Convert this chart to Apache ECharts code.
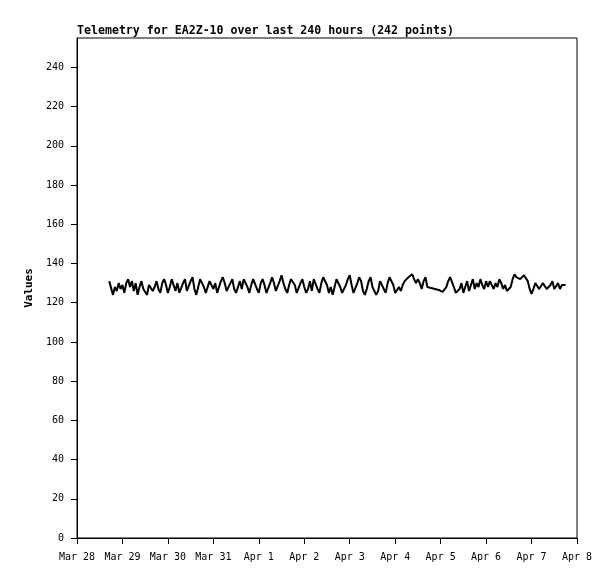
<!DOCTYPE html>
<html>
<head>
<meta charset="utf-8">
<script src="https://cdn.jsdelivr.net/npm/echarts@6/dist/echarts.min.js"></script>
<style>html,body{margin:0;padding:0;background:#fff}#c{width:615px;height:579px}</style>
</head>
<body>
<div id="c"></div>
<script>
// X tick labels (one per day, starting Mar 28 00:00)
const dayLabels = ["Mar 28","Mar 29","Mar 30","Mar 31","Apr 1","Apr 2","Apr 3","Apr 4","Apr 5","Apr 6","Apr 7","Apr 8"];
// X tick positions (hours after Mar 28 00:00)
const xTicks = [0,24,48,72,96,120,144,168,192,216,240,264];
// Y tick values
const yTicks = [0,20,40,60,80,100,120,140,160,180,200,220,240];
// first sample: hours after Mar 28 00:00; samples are hourly
const startHour = 17;
// telemetry values (242 points)
const values = [
  131,132,124,128,126,130,127,129,125,130,132,128,131,126,130,124,128,131,127,126,124,129,130,126,128,131,127,125,130,132,129,125,128,132,131,126,130,125,
  124,130,132,126,125,131,133,127,124,128,132,133,128,125,126,131,132,127,130,125,128,131,133,130,126,125,130,132,127,125,128,131,127,132,133,128,125,129,132,133,
  127,125,130,132,129,125,126,130,133,130,126,125,131,134,130,127,125,129,132,133,129,125,126,130,132,128,125,127,131,126,132,133,127,125,130,133,134,129,125,128,
  124,128,132,133,128,125,124,129,132,134,129,125,126,130,133,131,126,124,127,131,133,128,127,124,126,131,132,127,125,130,133,134,129,125,126,128,
  126,129,131,132,133,134,134.5,132,130,132,130,127,131,133,128,
  127,127.5,127.5,127,127,126.5,126,125.5,125,
  128,131,133,132,128,
  125,124,127,130,125,128,131,126,129,132,127,130,128,132,129,127,131,
  128,131,132,127,130,128,132,130,127,129,
  126,126,128,
  132,134.5,133,
  133,132,133,134,133,131,
  127,124.5,127,
  130,131,127,126,130,131,127,126,129,131,127,126,130,127,129,128,129
];

const data = values.map((v, i) => [startHour + i, v]);
const mono = "DejaVu Sans Mono";

const chart = echarts.init(document.getElementById('c'), null, {renderer: 'canvas'});
chart.setOption({
  animation: false,
  backgroundColor: '#fff',
  title: {
    text: 'Telemetry for EA2Z-10 over last 240 hours (242 points)',
    left: 77, top: 25, padding: 0,
    textStyle: {fontFamily: mono, fontSize: 11.6, fontWeight: 'bold', color: '#000'}
  },
  grid: {left: 77, right: 38, top: 38, bottom: 41, show: true, borderColor: '#000', borderWidth: 1, backgroundColor: 'transparent'},
  xAxis: {
    type: 'value', min: 0, max: 264, interval: 24,
    axisLine: {show: true, onZero: false, lineStyle: {color: '#000', width: 1}},
    axisTick: {show: true, inside: false, length: 6, lineStyle: {color: '#000', width: 1}, customValues: xTicks},
    splitLine: {show: false},
    axisLabel: {
      margin: 14, fontFamily: mono, fontSize: 10, color: '#000',
      customValues: xTicks,
      formatter: v => dayLabels[xTicks.indexOf(v)] || ''
    }
  },
  yAxis: {
    type: 'value', min: 0, max: 255,
    name: 'Values', nameLocation: 'middle', nameGap: 33, nameRotate: 90,
    nameTextStyle: {fontFamily: mono, fontSize: 11, fontWeight: 'bold', color: '#000'},
    axisLine: {show: true, lineStyle: {color: '#000', width: 1}},
    axisTick: {show: true, inside: false, length: 6, lineStyle: {color: '#000'}, customValues: yTicks},
    splitLine: {show: false},
    axisLabel: {margin: 13, fontFamily: mono, fontSize: 10, color: '#000', customValues: yTicks}
  },
  series: [{
    type: 'line', data: data, showSymbol: false, symbol: 'none',
    lineStyle: {color: '#000', width: 2}, smooth: false
  }]
});
</script>
</body>
</html>
